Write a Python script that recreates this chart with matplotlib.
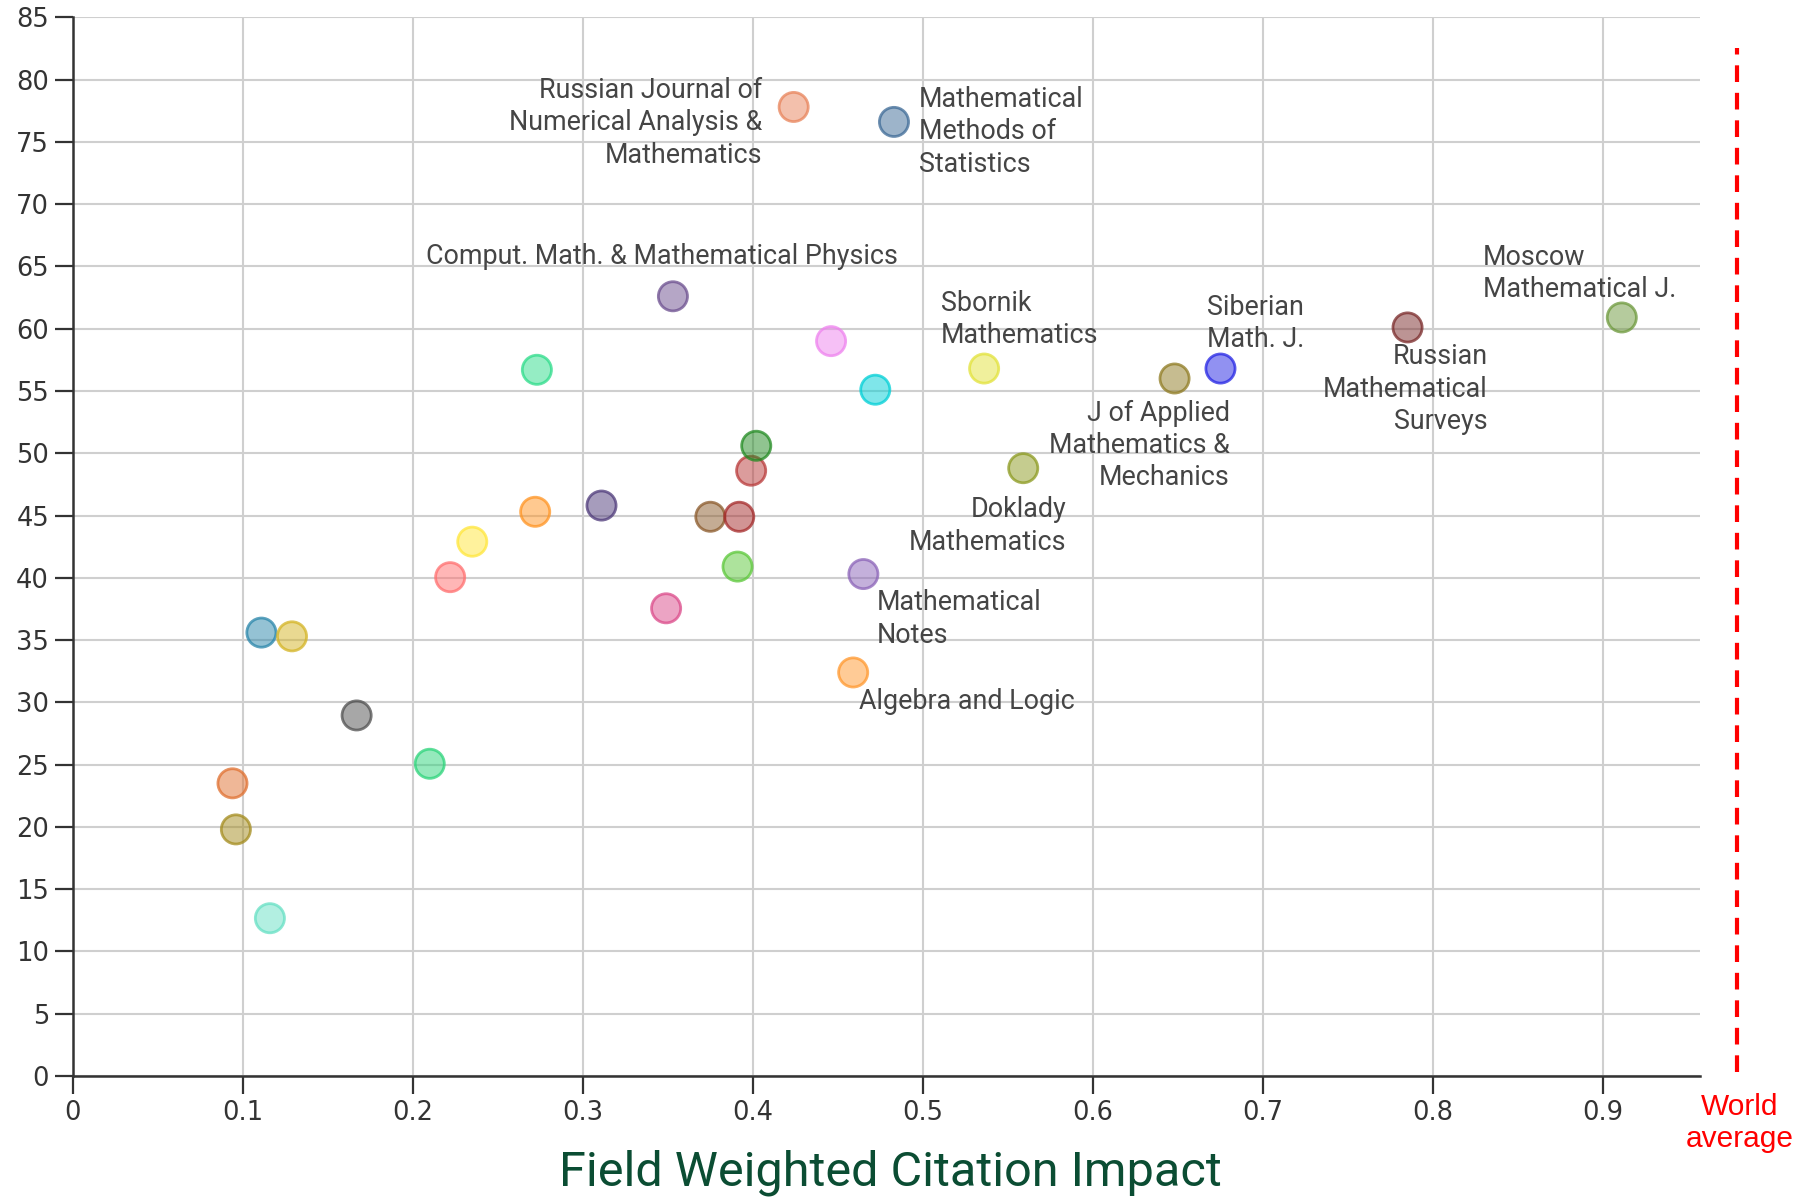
import matplotlib
matplotlib.use("Agg")
import matplotlib.pyplot as plt
from matplotlib.colors import to_rgba

# ---------------- data ----------------
fwci = [0.424, 0.483, 0.353, 0.446, 0.536, 0.472, 0.273, 0.648, 0.675, 0.785,
        0.911, 0.559, 0.399, 0.402, 0.375, 0.392, 0.311, 0.272, 0.235, 0.222,
        0.391, 0.465, 0.349, 0.459, 0.111, 0.129, 0.167, 0.210, 0.094, 0.096,
        0.116]
share = [77.8, 76.6, 62.6, 59.0, 56.8, 55.1, 56.7, 56.0, 56.8, 60.1,
         60.9, 48.8, 48.6, 50.6, 44.9, 44.9, 45.8, 45.3, 42.9, 40.05,
         40.9, 40.3, 37.55, 32.4, 35.6, 35.3, 28.95, 25.07, 23.5, 19.8,
         12.67]
names = ["Russian Journal of\nNumerical Analysis &\nMathematics",
         "Mathematical\nMethods of\nStatistics",
         "Comput. Math. & Mathematical Physics",
         "",
         "Sbornik\nMathematics",
         "",
         "",
         "J of Applied\nMathematics &\nMechanics",
         "Siberian\nMath. J.",
         "Russian\nMathematical\nSurveys",
         "Moscow\nMathematical J.",
         "Doklady\nMathematics",
         "", "", "", "", "", "", "", "",
         "",
         "Mathematical\nNotes",
         "",
         "Algebra and Logic",
         "", "", "", "", "", "", ""]
colors = ["#e8835a", "#3d6a96", "#6c4f8f", "#ee82ee", "#e2e23a", "#00cfd6",
          "#2ddc8a", "#8f7b22", "#2424e4", "#7a2a2a", "#6d993c", "#8c9a20",
          "#b93a3a", "#228b22", "#8b5a2b", "#a52a2a", "#4e3a7a", "#ff9422",
          "#ffe63a", "#ff6f6f", "#5cc83a", "#8b63b8", "#db4b8a", "#ff982e",
          "#2a86aa", "#d4b424", "#505050", "#2cd47a", "#e07030", "#a48c1e",
          "#66e0c4"]

x_ticks = [0, 0.1, 0.2, 0.3, 0.4, 0.5, 0.6, 0.7, 0.8, 0.9]
x_ticklabels = ["0", "0.1", "0.2", "0.3", "0.4", "0.5", "0.6", "0.7", "0.8", "0.9"]
y_ticks = list(range(0, 90, 5))
x_label = "Field Weighted Citation Impact"
world_label = "World\naverage"

# label placement (offset in pixels from the point, horizontal alignment)
label_pos = {
    0: (-31, -16, "right"),
    1: (25, -10, "left"),
    2: (-11, 40, "center"),
    4: (-43, 49, "left"),
    7: (55, -67, "right"),
    8: (-13, 45, "left"),
    9: (80, -62, "right"),
    10: (-139, 44, "left"),
    11: (43, -58, "right"),
    21: (13, -45, "left"),
    23: (6, -29, "left"),
}

# ---------------- figure ----------------
fig = plt.figure(figsize=(18.07, 12), dpi=100)
ax = fig.add_axes([0.0402, 0.1033, 0.9006, 0.8823])

ax.set_xlim(0, 0.957)
ax.set_ylim(0, 85)
ax.set_xticks(x_ticks)
ax.set_xticklabels(x_ticklabels)
ax.set_yticks(y_ticks)

ax.grid(True, color="#cfcfcf", linewidth=1.5)
ax.set_axisbelow(True)
for s in ["top", "right"]:
    ax.spines[s].set_visible(False)
for s in ["left", "bottom"]:
    ax.spines[s].set_color("#333333")
    ax.spines[s].set_linewidth(1.8)
    ax.spines[s].set_zorder(3)

ax.tick_params(axis="both", direction="out", length=13, width=1.6,
               color="#333333", labelcolor="#333333", labelsize=18.5)
ax.tick_params(axis="y", pad=4)
ax.tick_params(axis="x", pad=4)
for t in ax.get_xticklabels() + ax.get_yticklabels():
    t.set_fontfamily("DejaVu Sans")

face = [to_rgba(c, 0.5) for c in colors]
edge = [to_rgba(c, 0.75) for c in colors]
ax.scatter(fwci, share, s=440, c=face, edgecolors=edge, linewidths=2.0,
           zorder=4, clip_on=False)

for i, (dx, dy, ha) in label_pos.items():
    ax.annotate(names[i], xy=(fwci[i], share[i]), xytext=(dx, dy),
                textcoords="offset pixels", ha=ha, va="center",
                multialignment=ha, fontsize=19.4, family="Roboto",
                color="#454545", linespacing=1.26, zorder=5)

# x label
fig.text(0.4925, 1 - 1173 / 1200, x_label, ha="center", va="center",
         fontsize=35, family="Roboto", color="#0b4d33")

# world average dashed line (outside the data range, right of the axes)
ax.plot([1.0227, 1.0227], [0.004, 0.9706], transform=ax.transAxes,
        color="#ff0000", linewidth=3.0, linestyle=(0, (4, 2.6)),
        clip_on=False, zorder=5)
fig.text(1740 / 1807, 1 - 1123 / 1200, world_label, ha="center", va="center",
         fontsize=21.5, family="Liberation Sans", color="#ff0000",
         linespacing=1.22)

fig.savefig("out.png", dpi=100)
